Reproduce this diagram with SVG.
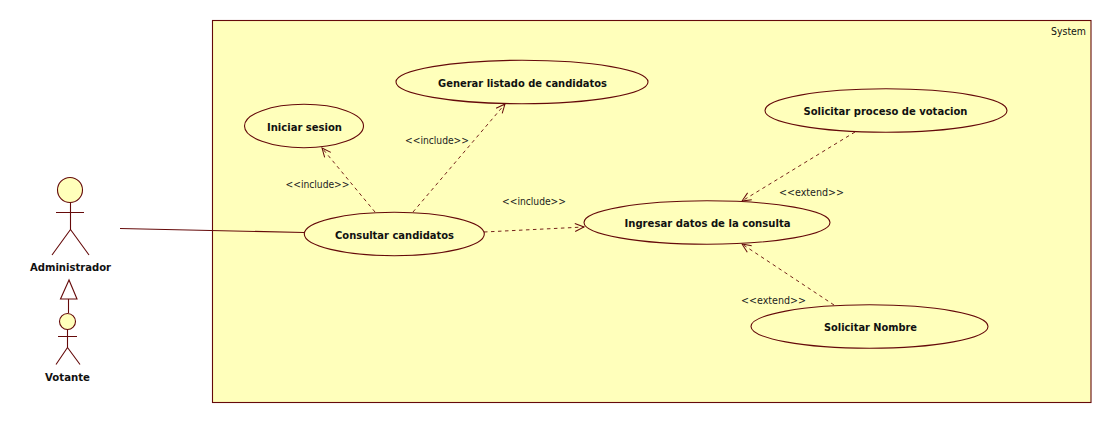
<svg xmlns="http://www.w3.org/2000/svg" width="1112" height="423" viewBox="0 0 1112 423">
<style>
.s{fill:none;stroke:#650a0a;stroke-width:1.1}
.f{fill:#ffffbb;stroke:#650a0a;stroke-width:1.1}
.d{fill:none;stroke:#650a0a;stroke-width:0.9;stroke-dasharray:3.5 3.5}
text{font-family:"DejaVu Sans","Liberation Sans",sans-serif;font-size:10.5px;fill:#111;text-anchor:middle}
.b{font-weight:bold}
.l{fill:#222;font-size:10.5px}
</style>
<defs>
<marker id="open" viewBox="0 0 12 12" refX="11" refY="6" markerWidth="12" markerHeight="12" markerUnits="userSpaceOnUse" orient="auto">
<path d="M2 2L11 6L2 10" fill="none" stroke="#650a0a" stroke-width="1"/>
</marker>
</defs>
<rect width="1112" height="423" fill="#fff"/>
<g id="system">
<rect class="f" x="212.500" y="20.500" width="878.500" height="382"/>
<text x="1086" y="35" style="text-anchor:end;font-weight:normal" textLength="35" lengthAdjust="spacingAndGlyphs">System</text>
</g>
<g id="connectors">
<path class="s" d="M120 228.500L304 232.500"/>
<path class="s" d="M68.500 313V299"/>
<path class="s" d="M69 280L60.500 299H77Z"/>
<path class="d" d="M375 212L322 148" marker-end="url(#open)"/>
<path class="d" d="M413 212L505 104" marker-end="url(#open)"/>
<path class="d" d="M484 232L584 227" marker-end="url(#open)"/>
<path class="d" d="M855 132L742 201" marker-end="url(#open)"/>
<path class="d" d="M834 305L742 244" marker-end="url(#open)"/>
<text class="l" x="317.500" y="188" textLength="64" lengthAdjust="spacingAndGlyphs">&lt;&lt;include&gt;&gt;</text>
<text class="l" x="437" y="144" textLength="64" lengthAdjust="spacingAndGlyphs">&lt;&lt;include&gt;&gt;</text>
<text class="l" x="534" y="205" textLength="64" lengthAdjust="spacingAndGlyphs">&lt;&lt;include&gt;&gt;</text>
<text class="l" x="811.500" y="196" textLength="65" lengthAdjust="spacingAndGlyphs">&lt;&lt;extend&gt;&gt;</text>
<text class="l" x="773.500" y="304" textLength="65" lengthAdjust="spacingAndGlyphs">&lt;&lt;extend&gt;&gt;</text>
</g>
<g id="administrador">
<circle class="f" cx="70" cy="190" r="12.500"/>
<path class="s" d="M70.500 202.500V229.500M56 212.500H84M70.500 229.500L52 255M70.500 229.500L89 255"/>
<text class="b" x="70.500" y="271" textLength="81" lengthAdjust="spacingAndGlyphs">Administrador</text>
</g>
<g id="votante">
<circle class="f" cx="67.500" cy="321.500" r="8"/>
<path class="s" d="M67.500 329.500V347.500M58 336.500H77M67.500 347.500L56 364.500M67.500 347.500L80 364.500"/>
<text class="b" x="67.500" y="381" textLength="45" lengthAdjust="spacingAndGlyphs">Votante</text>
</g>
<g id="iniciar">
<ellipse class="f" cx="304" cy="126" rx="59.500" ry="21.700"/>
<text class="b" x="304.500" y="131" textLength="75" lengthAdjust="spacingAndGlyphs">Iniciar sesion</text>
</g>
<g id="generar">
<ellipse class="f" cx="522" cy="82" rx="126" ry="21.700"/>
<text class="b" x="522.500" y="87" textLength="169" lengthAdjust="spacingAndGlyphs">Generar listado de candidatos</text>
</g>
<g id="consultar">
<ellipse class="f" cx="394.300" cy="234" rx="90" ry="21.700"/>
<text class="b" x="394.500" y="239" textLength="119" lengthAdjust="spacingAndGlyphs">Consultar candidatos</text>
</g>
<g id="ingresar">
<ellipse class="f" cx="707" cy="222.500" rx="123" ry="21.700"/>
<text class="b" x="707.500" y="227" textLength="166" lengthAdjust="spacingAndGlyphs">Ingresar datos de la consulta</text>
</g>
<g id="votacion">
<ellipse class="f" cx="886" cy="110.500" rx="121" ry="21.700"/>
<text class="b" x="885.500" y="115" textLength="164" lengthAdjust="spacingAndGlyphs">Solicitar proceso de votacion</text>
</g>
<g id="nombre">
<ellipse class="f" cx="869.500" cy="326.500" rx="118.500" ry="21.700"/>
<text class="b" x="870.500" y="331" textLength="93" lengthAdjust="spacingAndGlyphs">Solicitar Nombre</text>
</g>
</svg>
